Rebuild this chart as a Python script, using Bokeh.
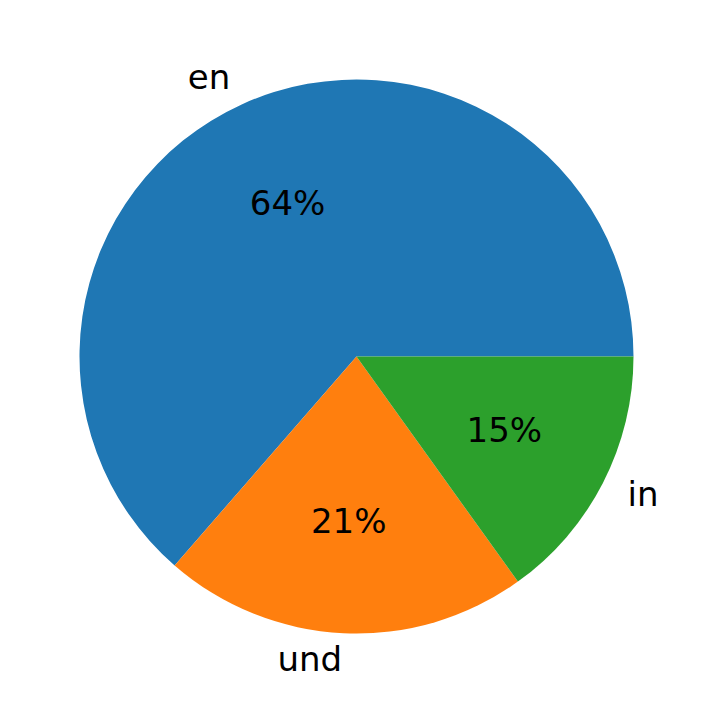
import math
from bokeh.plotting import figure
from bokeh.models import Range1d, ColumnDataSource
from bokeh.core.properties import value
from bokeh.embed import file_html
from bokeh.resources import INLINE

labels = ["en", "und", "in"]
values = [63.6, 21.3, 15.1]
colors = ["#1f77b4", "#ff7f0e", "#2ca02c"]

W, H = 696, 697
R = 277.0

p = figure(width=W, height=H, output_backend="svg", toolbar_location=None,
           x_range=Range1d(-356, 340), y_range=Range1d(-341, 356),
           min_border=0, outline_line_color=None)
p.axis.visible = False
p.grid.visible = False
p.background_fill_color = "white"

total = float(sum(values))
starts, ends = [], []
acc = 0.0
for v in values:
    starts.append(2 * math.pi * acc / total)
    acc += v
    ends.append(2 * math.pi * acc / total)

src = ColumnDataSource(dict(start=starts, end=ends, color=colors))
p.wedge(x=0, y=0, radius=R, start_angle="start", end_angle="end",
        fill_color="color", line_color=None, source=src)

lx, ly, la, px, py, pt = [], [], [], [], [], []
for lab, v, s, e in zip(labels, values, starts, ends):
    m = (s + e) / 2
    x, y = 1.1 * R * math.cos(m), 1.1 * R * math.sin(m)
    lx.append(x); ly.append(y); la.append("right" if x < 0 else "left")
    px.append(0.6 * R * math.cos(m)); py.append(0.6 * R * math.sin(m))
    pt.append(f"{100 * v / total:.0f}%")

for i in range(len(labels)):
    p.text(x=[lx[i]], y=[ly[i]], text=[labels[i]], text_align=la[i],
           text_baseline="middle", text_font=value("DejaVu Sans"),
           text_font_size="34px", text_color="black", y_offset=-2)
p.text(x=px, y=py, text=pt, text_align="center", text_baseline="middle",
       text_font=value("DejaVu Sans"), text_font_size="34px", text_color="black",
       y_offset=-2)

open("out.html", "w").write(file_html(p, INLINE))
